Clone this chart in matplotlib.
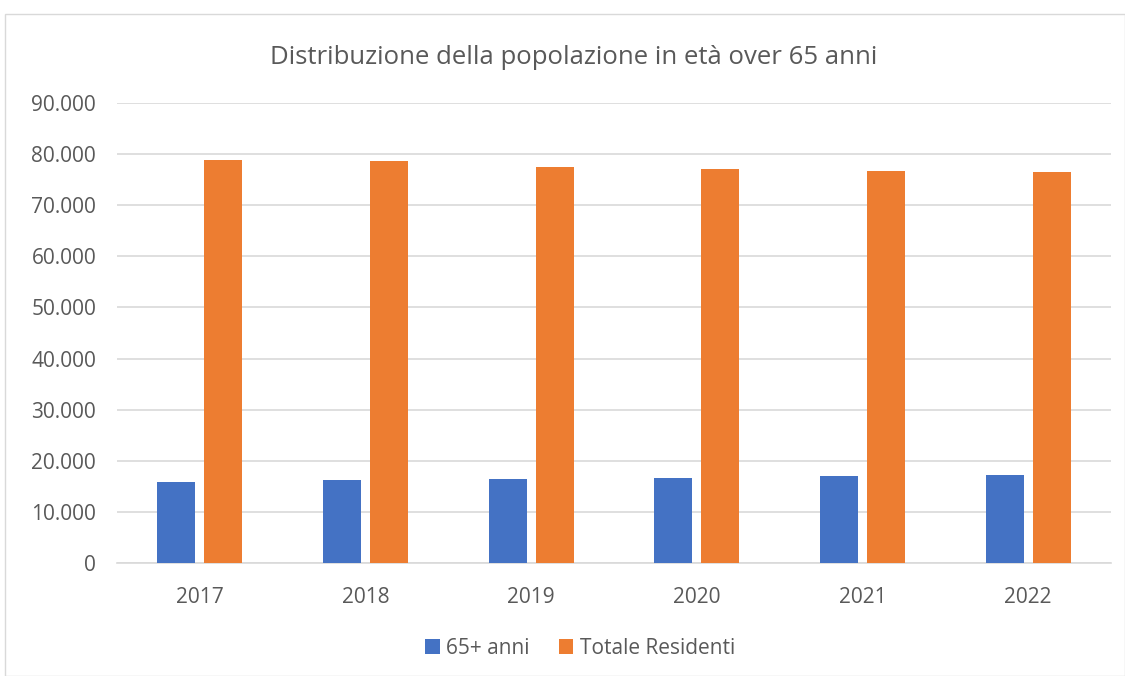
import matplotlib
matplotlib.use("Agg")
import matplotlib.pyplot as plt
from matplotlib.patches import Rectangle
from matplotlib.ticker import FuncFormatter, MultipleLocator
import numpy as np

years = ["2017", "2018", "2019", "2020", "2021", "2022"]
over65 = [15900, 16150, 16350, 16600, 17000, 17200]
totale = [78900, 78700, 77450, 77050, 76750, 76450]
series_names = ["65+ anni", "Totale Residenti"]
title = "Distribuzione della popolazione in età over 65 anni"

plt.rcParams['font.family'] = ['Open Sans', 'DejaVu Sans']
txt = "#595959"

fig = plt.figure(figsize=(11.25, 6.76), dpi=100)
fig.patches.append(Rectangle((5/1125, 0), 1120/1125, 1 - 14/676, transform=fig.transFigure,
                             fill=False, edgecolor="#d9d9d9", linewidth=1.0))
ax = fig.add_axes([117/1125, 1 - 563/676, (1111-117)/1125, (563-103)/676])

x = np.arange(len(years))
w = 0.23
ax.bar(x - 0.142, over65, width=w, color="#4472C4", label=series_names[0], zorder=3)
ax.bar(x + 0.142, totale, width=w, color="#ED7D31", label=series_names[1], zorder=3)

ax.set_xlim(-0.5, len(years) - 0.5)
ax.set_ylim(0, 90000)
ax.yaxis.set_major_locator(MultipleLocator(10000))
ax.yaxis.set_major_formatter(FuncFormatter(lambda v, p: f"{int(v):,}".replace(",", ".")))
ax.set_xticks(x)
ax.set_xticklabels(years)
ax.grid(axis="y", color="#d9d9d9", linewidth=1.2, zorder=0)
for s in ["top", "right", "left"]:
    ax.spines[s].set_visible(False)
ax.spines["bottom"].set_color("#d9d9d9")
ax.spines["bottom"].set_linewidth(1.2)
ax.tick_params(axis="both", length=0, labelsize=15, labelcolor=txt)
ax.tick_params(axis="x", pad=17)
ax.tick_params(axis="y", pad=15)

fig.text(574/1125, 1 - 57/676, title, ha="center", va="center", fontsize=18.5, color=txt)
fig.legend(loc="center", bbox_to_anchor=(580/1125, 1 - 648/676), ncol=2, frameon=False,
           fontsize=15, labelcolor=txt, handlelength=0.7, handleheight=0.7,
           handletextpad=0.3, columnspacing=1.4)

fig.savefig("out.png", dpi=100)
